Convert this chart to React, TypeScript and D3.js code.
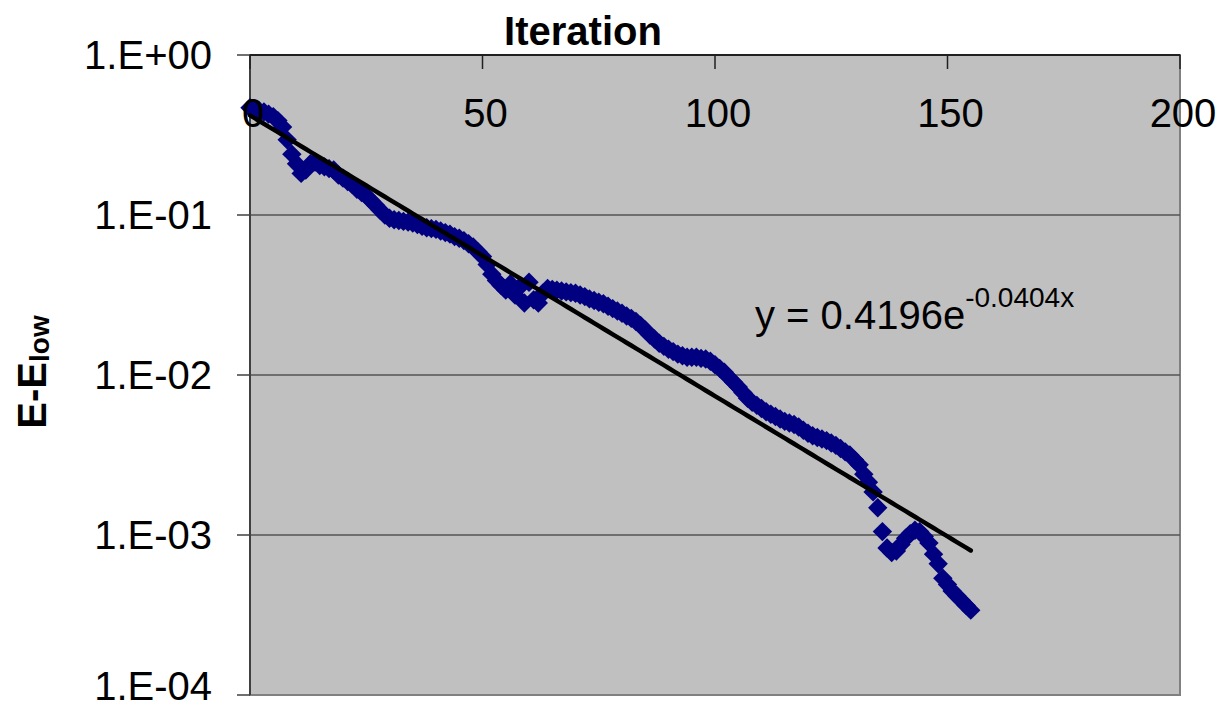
import React from "react";
import * as d3 from "d3";

// E - E_low per iteration (iteration = index, 0..155)
const energyGap: number[] = [
  0.468, 0.457, 0.447, 0.441, 0.427, 0.412, 0.389, 0.355, 0.295, 0.24,
  0.209, 0.182, 0.191, 0.209, 0.214, 0.204, 0.2, 0.195, 0.191, 0.178,
  0.17, 0.162, 0.155, 0.145, 0.138, 0.132, 0.123, 0.115, 0.107, 0.1,
  0.0955, 0.0933, 0.0923, 0.0912, 0.0902, 0.0891, 0.0871, 0.0851, 0.0832, 0.0822,
  0.0813, 0.0794, 0.0776, 0.0759, 0.0733, 0.0716, 0.0692, 0.0661, 0.0631, 0.0589,
  0.055, 0.049, 0.0427, 0.0389, 0.0363, 0.0339, 0.0372, 0.0316, 0.0355, 0.0282,
  0.038, 0.0295, 0.0282, 0.0324, 0.0347, 0.0343, 0.0339, 0.0335, 0.0331, 0.0327,
  0.0324, 0.0316, 0.0309, 0.0299, 0.0292, 0.0285, 0.0279, 0.0269, 0.026, 0.0251,
  0.0243, 0.0234, 0.0226, 0.0216, 0.0204, 0.0191, 0.0178, 0.0168, 0.0158, 0.0151,
  0.0145, 0.014, 0.0135, 0.0132, 0.0129, 0.0129, 0.0129, 0.0127, 0.0126, 0.0122,
  0.0116, 0.011, 0.0104, 0.00966, 0.00902, 0.00841, 0.00776, 0.00716, 0.00676, 0.00646,
  0.00617, 0.00589, 0.00569, 0.0055, 0.00531, 0.00513, 0.00501, 0.0049, 0.00473, 0.00452,
  0.00432, 0.00417, 0.00407, 0.00398, 0.00389, 0.00376, 0.00363, 0.00347, 0.00331, 0.00316,
  0.00295, 0.00275, 0.0024, 0.00214, 0.00186, 0.00148, 0.00105, 0.00083, 0.000776, 0.000794,
  0.000871, 0.000955, 0.00102, 0.00107, 0.00105, 0.000977, 0.000891, 0.000759, 0.000661, 0.000537,
  0.00049, 0.000447, 0.000417, 0.000389, 0.000363, 0.000339,
];
const iterations: number[] = energyGap.map((_, i) => i);

const xTicks: number[] = [0, 50, 100, 150, 200];
const yTicks: number[] = [1, 0.1, 0.01, 0.001, 0.0001];
const yTickLabels: string[] = ["1.E+00", "1.E-01", "1.E-02", "1.E-03", "1.E-04"];

const trendA = 0.4196;
const trendB = -0.0404;

const FONT = "'Liberation Sans', Arial, Helvetica, sans-serif";

export default function App() {
  const W = 1218;
  const H = 710;
  const left = 250;
  const right = 1180;
  const top = 55;
  const bottom = 695;

  const x = d3.scaleLinear().domain([0, 200]).range([left, right]);
  const y = d3.scaleLog().domain([1e-4, 1]).range([bottom, top]);

  const trendPts = iterations.map((i) => [i, trendA * Math.exp(trendB * i)] as [number, number]);
  const trendLine = d3
    .line<[number, number]>()
    .x((d) => x(d[0]))
    .y((d) => y(d[1]));

  const diamond = d3.symbol().type(d3.symbolDiamond2).size(240)();

  return (
    <svg
      width={W}
      height={H}
      style={{ position: "absolute", left: 0, top: 0, background: "#fff" }}
      fontFamily={FONT}
    >
      <rect x={left} y={top} width={right - left} height={bottom - top} fill="#c0c0c0" stroke="#808080" strokeWidth={2} />
      {yTicks.slice(1, 4).map((t) => (
        <line key={t} x1={left} x2={right} y1={y(t)} y2={y(t)} stroke="#555" strokeWidth={1.5} />
      ))}
      {/* left axis */}
      <line x1={left} x2={left} y1={top} y2={bottom} stroke="#404040" strokeWidth={2} />
      {yTicks.map((t) => (
        <line key={"yt" + t} x1={left - 13} x2={left} y1={y(t)} y2={y(t)} stroke="#404040" strokeWidth={1.5} />
      ))}
      {/* top axis */}
      <line x1={left} x2={right} y1={top} y2={top} stroke="#202020" strokeWidth={2} />
      {xTicks.map((t) => (
        <line key={"xt" + t} x1={x(t)} x2={x(t)} y1={top} y2={top + 14} stroke="#202020" strokeWidth={1.5} />
      ))}

      {/* data */}
      {iterations.map((it, i) => (
        <path key={i} d={diamond} transform={`translate(${x(it)},${y(energyGap[i])})`} fill="#000080" />
      ))}
      <path d={trendLine(trendPts) || ""} fill="none" stroke="#000" strokeWidth={4.5} strokeLinejoin="round" strokeLinecap="round" />

      {/* y tick labels */}
      {yTicks.map((t, i) => (
        <text
          key={"yl" + t}
          x={212}
          y={Math.min(y(t) + 14, 700)}
          textAnchor="end"
          fontSize={40}
          fill="#000"
        >
          {yTickLabels[i]}
        </text>
      ))}
      {/* x tick labels */}
      {xTicks.map((t) => (
        <text key={"xl" + t} x={x(t) + 3} y={113} dy="0.36em" textAnchor="middle" fontSize={40} fill="#000">
          {t}
        </text>
      ))}

      {/* axis titles */}
      <text x={583} y={45} textAnchor="middle" fontSize={40} fontWeight="bold" fill="#000">
        Iteration
      </text>
      <text transform="translate(46,372) rotate(-90)" textAnchor="middle" fontSize={40} fontWeight="bold" fill="#000">
        E-E<tspan fontSize={28} dy={3}>low</tspan>
      </text>

      {/* trendline equation */}
      <text x={755} y={329} fontSize={40} fill="#000">
        y = 0.4196e<tspan fontSize={28} dy={-22}>-0.0404x</tspan>
      </text>
    </svg>
  );
}
